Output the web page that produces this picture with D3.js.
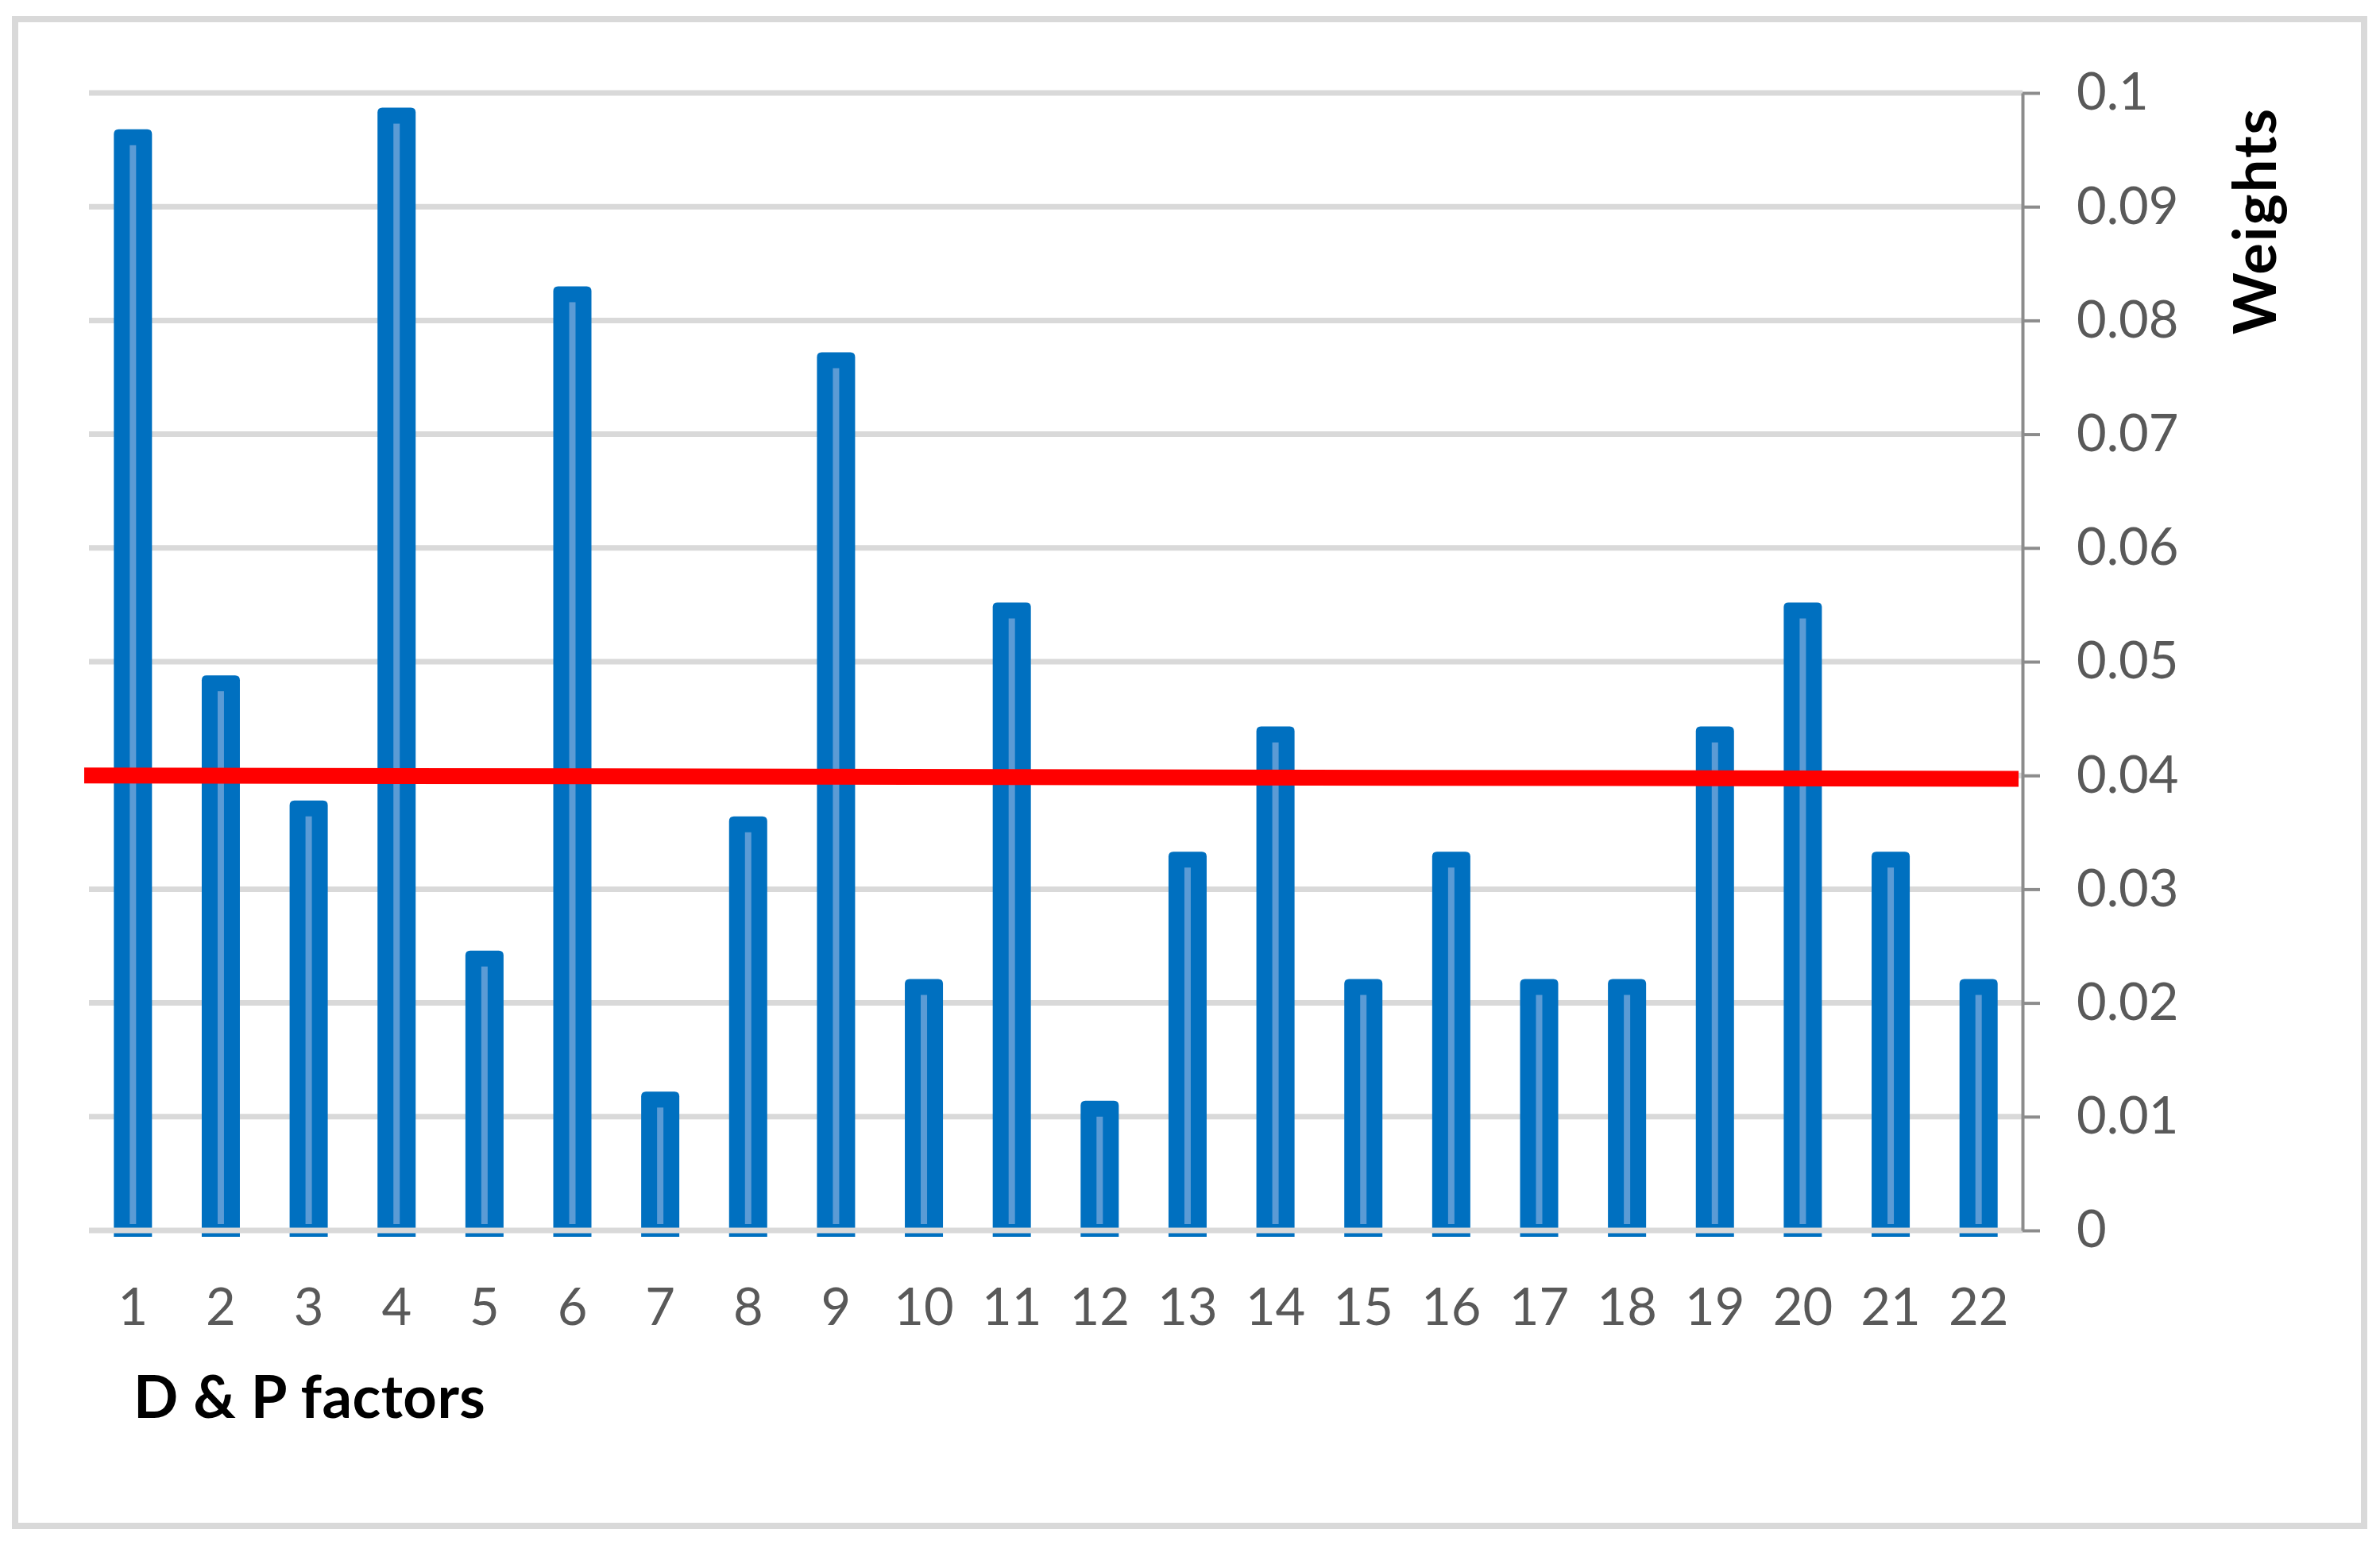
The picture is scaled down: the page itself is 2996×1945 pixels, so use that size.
<!DOCTYPE html>
<html>
<head>
<meta charset="utf-8">
<script src="https://cdn.jsdelivr.net/npm/d3@7"></script>
<style>
    body { margin: 0; background: #fff; }
    text { font-family: Lato, 'Open Sans', sans-serif; }
</style>
</head>
<body>
<script>
// D & P factors and their weights
var factors = ['1', '2', '3', '4', '5', '6', '7', '8', '9', '10', '11',
    '12', '13', '14', '15', '16', '17', '18', '19', '20', '21', '22'];
var weights = [0.0968, 0.0488, 0.0378, 0.0987, 0.0246, 0.0830, 0.0122, 0.0364,
    0.0772, 0.0221, 0.0552, 0.0114, 0.0333, 0.0443, 0.0221, 0.0333, 0.0221,
    0.0221, 0.0443, 0.0552, 0.0333, 0.0221];

// red threshold line (drawn slightly off level in the original)
var thresholdStart = 0.0400;
var thresholdEnd = 0.0397;

var yTicks = [0, 0.01, 0.02, 0.03, 0.04, 0.05, 0.06, 0.07, 0.08, 0.09, 0.1];
var yTickLabels = ['0', '0.01', '0.02', '0.03', '0.04', '0.05', '0.06', '0.07', '0.08', '0.09', '0.1'];

var svgWidth = 2996;
var svgHeight = 1945;

var plotLeft = 112;
var plotRight = 2546;
var plotTop = 117;
var plotBottom = 1549;

var svg = d3.select('body')
    .append('svg')
    .attr('width', svgWidth)
    .attr('height', svgHeight);

svg.append('rect')
    .attr('width', svgWidth)
    .attr('height', svgHeight)
    .attr('fill', '#fff');

// outer frame
svg.append('rect')
    .attr('x', 19)
    .attr('y', 24)
    .attr('width', 2976 - 19)
    .attr('height', 1921 - 24)
    .attr('fill', 'none')
    .attr('stroke', '#d9d9d9')
    .attr('stroke-width', 8);

var x = d3.scaleBand()
    .domain(factors)
    .range([plotLeft, plotRight])
    .paddingInner(0.566)
    .paddingOuter(0.283);

var y = d3.scaleLinear()
    .domain([0, 0.1])
    .range([plotBottom, plotTop]);

// gridlines (zero line goes on top of the bars later)
svg.append('g')
    .selectAll('line')
    .data(yTicks.filter(function (d) { return d > 0; }))
    .enter()
    .append('line')
    .attr('x1', plotLeft)
    .attr('x2', plotRight)
    .attr('y1', function (d) { return y(d); })
    .attr('y2', function (d) { return y(d); })
    .attr('stroke', '#d9d9d9')
    .attr('stroke-width', 7);

// bars with rounded tops
var r = 6;
var bars = svg.append('g');

bars.selectAll('path')
    .data(weights)
    .enter()
    .append('path')
    .attr('fill', '#0070c0')
    .attr('d', function (d, i) {
        var x0 = x(factors[i]);
        var x1 = x0 + x.bandwidth();
        var top = y(d);
        var bottom = y(0) + 8;
        return 'M' + x0 + ',' + bottom +
            'L' + x0 + ',' + (top + r) +
            'Q' + x0 + ',' + top + ' ' + (x0 + r) + ',' + top +
            'L' + (x1 - r) + ',' + top +
            'Q' + x1 + ',' + top + ' ' + x1 + ',' + (top + r) +
            'L' + x1 + ',' + bottom + 'Z';
    });

// light stripe down the middle of each bar
bars.selectAll('rect')
    .data(weights)
    .enter()
    .append('rect')
    .attr('x', function (d, i) { return x(factors[i]) + x.bandwidth() / 2 - 4; })
    .attr('y', function (d) { return y(d) + 20; })
    .attr('width', 8)
    .attr('height', function (d) { return Math.max(0, y(0) - 8 - y(d) - 20); })
    .attr('fill', '#5b9bd5');

// zero line
svg.append('line')
    .attr('x1', plotLeft)
    .attr('x2', plotRight)
    .attr('y1', y(0))
    .attr('y2', y(0))
    .attr('stroke', '#d9d9d9')
    .attr('stroke-width', 7);

// threshold
svg.append('line')
    .attr('x1', 106)
    .attr('x2', 2541)
    .attr('y1', y(thresholdStart))
    .attr('y2', y(thresholdEnd))
    .attr('stroke', '#ff0000')
    .attr('stroke-width', 20);

// right axis
var yAxis = svg.append('g')
    .attr('transform', 'translate(' + plotRight + ',0)')
    .call(d3.axisRight(y)
        .tickValues(yTicks)
        .tickFormat(function (d, i) { return yTickLabels[i]; })
        .tickSize(22)
        .tickSizeOuter(0)
        .tickPadding(46));

yAxis.select('.domain')
    .attr('stroke', '#8c8c8c')
    .attr('stroke-width', 4);
yAxis.selectAll('.tick line')
    .attr('stroke', '#8c8c8c')
    .attr('stroke-width', 4);
yAxis.selectAll('text')
    .attr('fill', '#595959')
    .attr('font-size', 65)
    .attr('font-family', 'Lato, sans-serif');

// category labels
var xAxis = svg.append('g')
    .attr('transform', 'translate(0,' + plotBottom + ')')
    .call(d3.axisBottom(x).tickSize(0).tickPadding(73));

xAxis.select('.domain').remove();
xAxis.selectAll('text')
    .attr('fill', '#595959')
    .attr('font-size', 65)
    .attr('font-family', 'Lato, sans-serif');

// axis titles
svg.append('text')
    .attr('x', 168)
    .attr('y', 1785)
    .attr('font-size', 74)
    .attr('font-weight', 'bold')
    .attr('letter-spacing', 0.5)
    .attr('fill', '#000')
    .text('D & P factors');

svg.append('text')
    .attr('transform', 'translate(2865,278) rotate(-90)')
    .attr('text-anchor', 'middle')
    .attr('font-size', 74)
    .attr('font-weight', 'bold')
    .attr('letter-spacing', 2)
    .attr('fill', '#000')
    .text('Weights');
</script>
</body>
</html>
